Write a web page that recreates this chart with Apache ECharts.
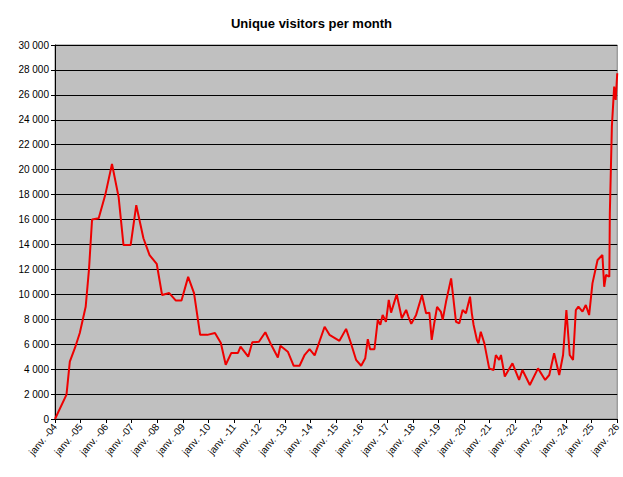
<!DOCTYPE html>
<html>
<head>
<meta charset="utf-8">
<script src="https://cdn.jsdelivr.net/npm/echarts@6/dist/echarts.min.js"></script>
<style>html,body{margin:0;padding:0;background:#fff}#chart-container{width:623px;height:477px}</style>
</head>
<body>
<div id="chart-container"></div>
<script>
// x = fractional year, y = visitors
var years = [2004.0, 2004.45, 2004.58, 2004.78, 2004.97, 2005.2, 2005.33, 2005.45, 2005.71, 2005.97,
  2006.23, 2006.49, 2006.68, 2006.96, 2007.18, 2007.46, 2007.7, 2007.98, 2008.19, 2008.47,
  2008.73, 2008.95, 2009.21, 2009.44, 2009.68, 2009.96, 2010.26, 2010.49, 2010.68, 2010.9,
  2011.16, 2011.26, 2011.56, 2011.72, 2011.98, 2012.23, 2012.46, 2012.72, 2012.82, 2013.11,
  2013.34, 2013.57, 2013.77, 2013.96, 2014.16, 2014.55, 2014.74, 2015.13, 2015.39, 2015.58,
  2015.78, 2015.98, 2016.14, 2016.24, 2016.33, 2016.5, 2016.63, 2016.73, 2016.82, 2016.95,
  2017.06, 2017.15, 2017.37, 2017.57, 2017.74, 2017.83, 2017.94, 2018.13, 2018.36, 2018.52,
  2018.65, 2018.74, 2018.84, 2018.95, 2019.1, 2019.17, 2019.3, 2019.5, 2019.69, 2019.82,
  2019.95, 2020.08, 2020.24, 2020.31, 2020.38, 2020.51, 2020.57, 2020.66, 2020.8, 2020.99,
  2021.16, 2021.25, 2021.38, 2021.45, 2021.6, 2021.9, 2022.16, 2022.29, 2022.58, 2022.9,
  2023.18, 2023.34, 2023.53, 2023.73, 2023.88, 2024.01, 2024.14, 2024.27, 2024.38, 2024.48,
  2024.64, 2024.77, 2024.9, 2025.03, 2025.23, 2025.42, 2025.49, 2025.56, 2025.69, 2025.71,
  2025.79, 2025.88, 2025.94, 2026.0];
var visitors = [0, 1950, 4600, 5700, 6900, 9000, 12000, 16000, 16100, 18000,
  20450, 17800, 13950, 13950, 17150, 14500, 13150, 12450, 9950, 10100,
  9500, 9500, 11400, 10100, 6750, 6750, 6900, 6100, 4350, 5300,
  5300, 5800, 5000, 6150, 6200, 6960, 5950, 4930, 5870, 5400,
  4270, 4270, 5150, 5600, 5100, 7400, 6750, 6270, 7230, 6080,
  4750, 4270, 4880, 6400, 5600, 5600, 7950, 7550, 8350, 7800,
  9550, 8530, 10000, 8080, 8750, 8200, 7630, 8350, 9950, 8480,
  8530, 6350, 7680, 9000, 8600, 7950, 9400, 11280, 7800, 7670,
  8740, 8480, 9810, 8480, 7540, 6340, 6070, 7000, 6070, 4060,
  3930, 5130, 4730, 5130, 3400, 4470, 3130, 3930, 2730, 4060,
  3130, 3530, 5270, 3530, 5130, 8740, 5130, 4730, 8740, 9010,
  8610, 9140, 8340, 10880, 12750, 13160, 10610, 11550, 11420, 16500,
  23450, 26660, 25590, 27730];
var yTicks = [0, 30000, 2000];

var dom = document.getElementById('chart-container');
var myChart = echarts.init(dom, null, { renderer: 'svg' });

var option = {
  backgroundColor: '#fff',
  animation: false,
  title: {
    text: 'Unique visitors per month',
    left: 'center',
    top: 12,
    textStyle: { fontFamily: 'Liberation Sans', fontSize: 13, fontWeight: 'bold', color: '#000' }
  },
  grid: {
    left: 55, right: 5, top: 45, bottom: 58,
    show: true, backgroundColor: '#c0c0c0', borderColor: '#808080', borderWidth: 1
  },
  xAxis: {
    type: 'value',
    min: 2004, max: 2026, interval: 1,
    splitLine: { show: false },
    axisLine: { lineStyle: { color: '#000' } },
    axisTick: { lineStyle: { color: '#000' }, length: 4 },
    axisLabel: {
      rotate: 50, color: '#000', fontFamily: 'Liberation Sans', fontSize: 10, margin: 6,
      formatter: function (v) { return 'janv. -' + String(Math.round(v) % 100).padStart(2, '0'); }
    }
  },
  yAxis: {
    type: 'value',
    min: yTicks[0], max: yTicks[1], interval: yTicks[2],
    splitLine: { lineStyle: { color: '#000', width: 1 } },
    axisLine: { show: true, lineStyle: { color: '#000' } },
    axisTick: { show: true, lineStyle: { color: '#000' }, length: 4 },
    axisLabel: {
      color: '#000', fontFamily: 'Liberation Sans', fontSize: 10, margin: 6,
      formatter: function (v) { return String(v).replace(/\B(?=(\d{3})+(?!\d))/g, ' '); }
    }
  },
  series: [{
    type: 'line',
    symbol: 'none',
    lineStyle: { color: '#ee0000', width: 2 },
    data: years.map(function (y, i) { return [y, visitors[i]]; })
  }]
};

myChart.setOption(option);
window.addEventListener('resize', myChart.resize);
</script>
</body>
</html>
